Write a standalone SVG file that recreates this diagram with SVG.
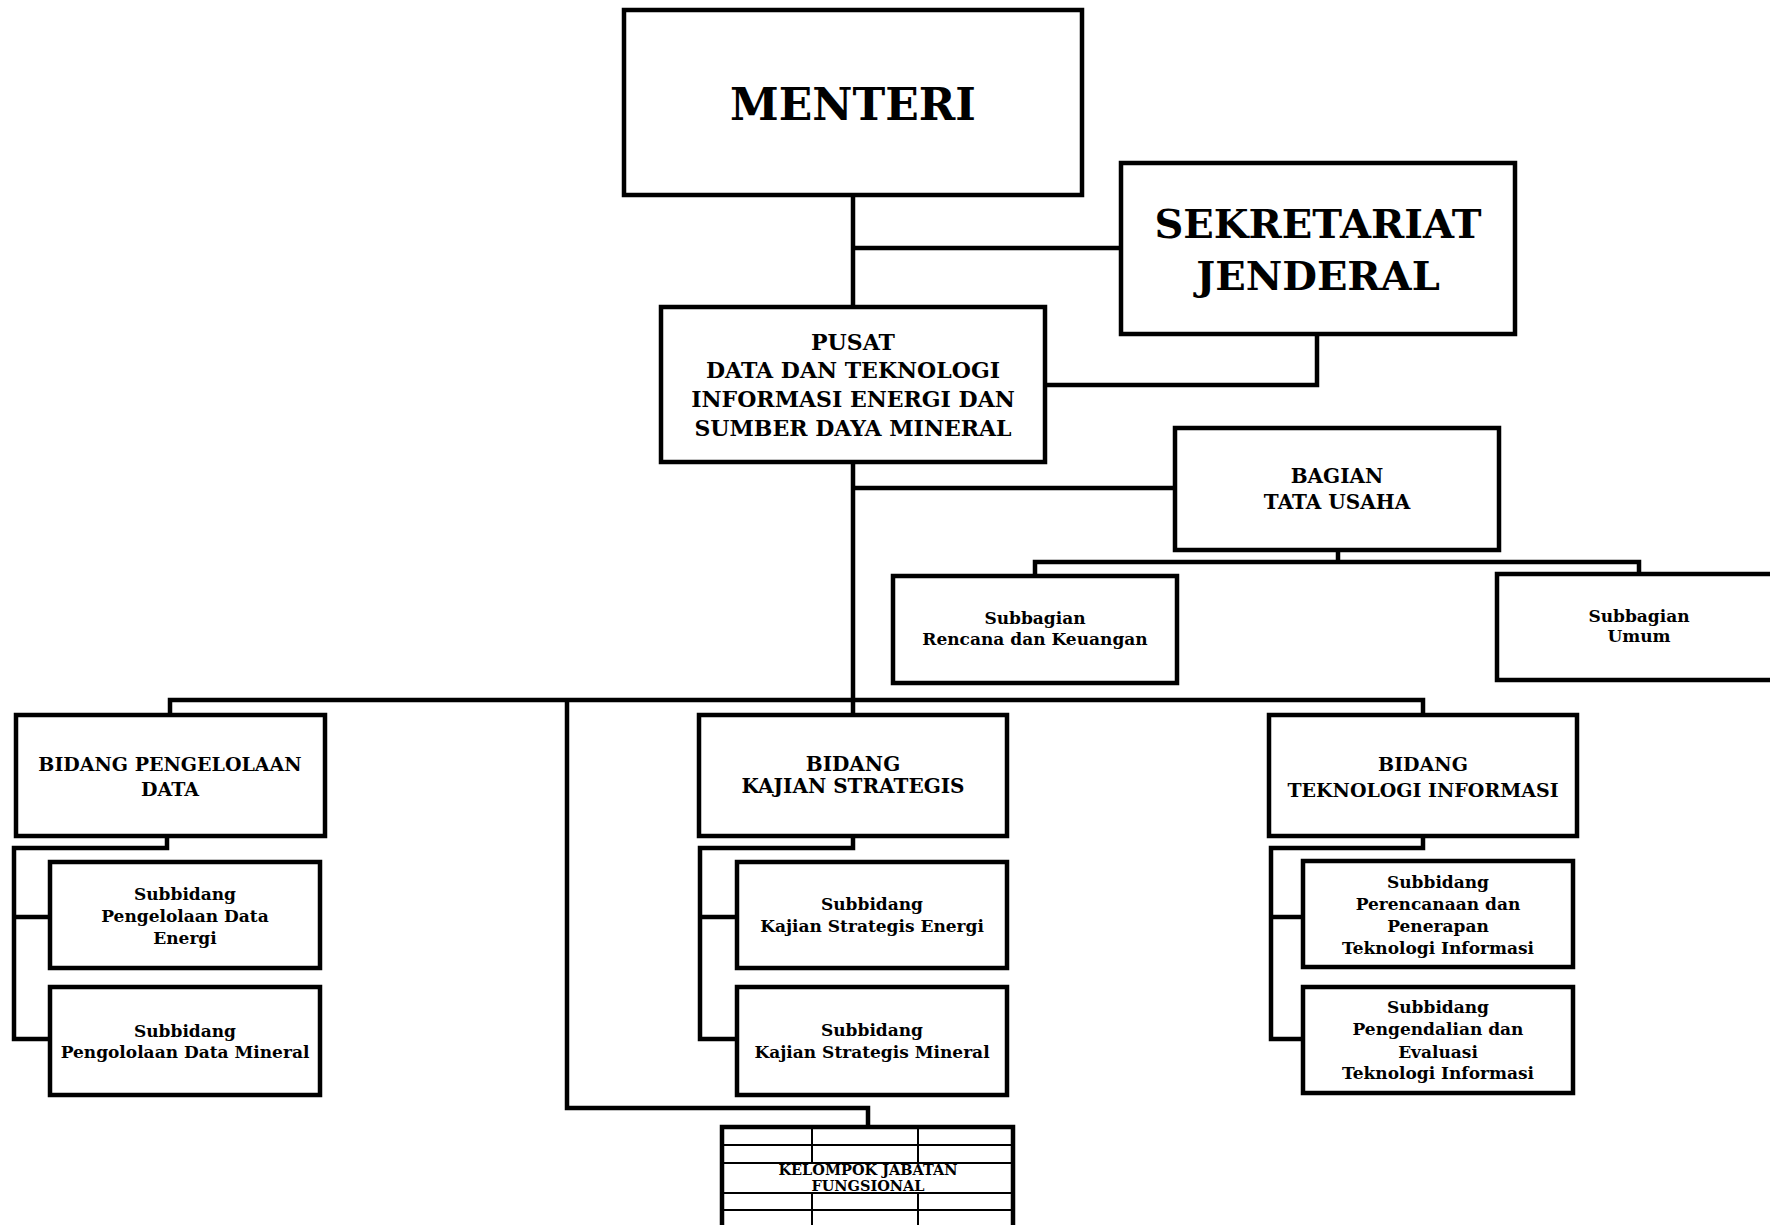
<svg xmlns="http://www.w3.org/2000/svg" width="1770" height="1225" viewBox="0 0 1770 1225">
<style>
.box{fill:#fff;stroke:#000;stroke-width:4.5}
.conn{fill:none;stroke:#000;stroke-width:4.5;stroke-linejoin:miter}
.grid{fill:none;stroke:#000;stroke-width:2}
text{font-family:"DejaVu Serif","Liberation Serif",serif;font-weight:bold;text-anchor:middle;fill:#000}
.t1{font-size:44px}
.t2{font-size:40px}
.t3{font-size:22px}
.t4{font-size:20px}
.t4b{font-size:19px}
.t5{font-size:17px}
.t6{font-size:14.5px}
</style>
<rect width="1770" height="1225" fill="#fff"/>
<g id="connectors">
<path class="conn" d="M853,195 V307"/>
<path class="conn" d="M853,248 H1121"/>
<path class="conn" d="M1317,334 V385 H1045"/>
<path class="conn" d="M853,462 V715"/>
<path class="conn" d="M853,488 H1175"/>
<path class="conn" d="M1338,550 V562"/>
<path class="conn" d="M1035,576 V562 H1639 V574"/>
<path class="conn" d="M170,715 V700 H1423 V715"/>
<path class="conn" d="M567,700 V1108 H868 V1127"/>
<path class="conn" d="M167,836 V848 H14 V1039 H50"/>
<path class="conn" d="M14,917 H50"/>
<path class="conn" d="M853,836 V848 H700 V1039 H737"/>
<path class="conn" d="M700,917 H737"/>
<path class="conn" d="M1423,836 V848 H1271 V1039 H1303"/>
<path class="conn" d="M1271,917 H1303"/>
</g>
<g id="menteri">
<rect class="box" x="624" y="10" width="458" height="185"/>
<text class="t1" x="853" y="120">MENTERI</text>
</g>
<g id="sekretariat-jenderal">
<rect class="box" x="1121" y="163" width="394" height="171"/>
<text class="t2" x="1318" y="238">SEKRETARIAT</text>
<text class="t2" x="1318" y="290">JENDERAL</text>
</g>
<g id="pusat">
<rect class="box" x="661" y="307" width="384" height="155"/>
<text class="t3" x="853" y="350">PUSAT</text>
<text class="t3" x="853" y="378">DATA DAN TEKNOLOGI</text>
<text class="t3" x="853" y="407">INFORMASI ENERGI DAN</text>
<text class="t3" x="853" y="436">SUMBER DAYA MINERAL</text>
</g>
<g id="bagian-tata-usaha">
<rect class="box" x="1175" y="428" width="324" height="122"/>
<text class="t4" x="1337" y="483">BAGIAN</text>
<text class="t4" x="1337" y="509">TATA USAHA</text>
</g>
<g id="subbagian-rencana">
<rect class="box" x="893" y="576" width="284" height="107"/>
<text class="t5" x="1035" y="624">Subbagian</text>
<text class="t5" x="1035" y="645">Rencana dan Keuangan</text>
</g>
<g id="subbagian-umum">
<rect class="box" x="1497" y="574" width="284" height="106"/>
<text class="t5" x="1639" y="622">Subbagian</text>
<text class="t5" x="1639" y="642">Umum</text>
</g>
<g id="bidang-pengelolaan-data">
<rect class="box" x="16" y="715" width="309" height="121"/>
<text class="t4b" x="170" y="771">BIDANG PENGELOLAAN</text>
<text class="t4b" x="170" y="796">DATA</text>
</g>
<g id="subbidang-pde">
<rect class="box" x="50" y="862" width="270" height="106"/>
<text class="t5" x="185" y="900">Subbidang</text>
<text class="t5" x="185" y="922">Pengelolaan Data</text>
<text class="t5" x="185" y="944">Energi</text>
</g>
<g id="subbidang-pdm">
<rect class="box" x="50" y="987" width="270" height="108"/>
<text class="t5" x="185" y="1037">Subbidang</text>
<text class="t5" x="185" y="1058">Pengololaan Data Mineral</text>
</g>
<g id="bidang-kajian-strategis">
<rect class="box" x="699" y="715" width="308" height="121"/>
<text class="t4" x="853" y="771">BIDANG</text>
<text class="t4" x="853" y="793">KAJIAN STRATEGIS</text>
</g>
<g id="subbidang-kse">
<rect class="box" x="737" y="862" width="270" height="106"/>
<text class="t5" x="872" y="910">Subbidang</text>
<text class="t5" x="872" y="932">Kajian Strategis Energi</text>
</g>
<g id="subbidang-ksm">
<rect class="box" x="737" y="987" width="270" height="108"/>
<text class="t5" x="872" y="1036">Subbidang</text>
<text class="t5" x="872" y="1058">Kajian Strategis Mineral</text>
</g>
<g id="bidang-teknologi-informasi">
<rect class="box" x="1269" y="715" width="308" height="121"/>
<text class="t4b" x="1423" y="771">BIDANG</text>
<text class="t4b" x="1423" y="797">TEKNOLOGI INFORMASI</text>
</g>
<g id="subbidang-ppti">
<rect class="box" x="1303" y="861" width="270" height="106"/>
<text class="t5" x="1438" y="888">Subbidang</text>
<text class="t5" x="1438" y="910">Perencanaan dan</text>
<text class="t5" x="1438" y="932">Penerapan</text>
<text class="t5" x="1438" y="954">Teknologi Informasi</text>
</g>
<g id="subbidang-peti">
<rect class="box" x="1303" y="987" width="270" height="106"/>
<text class="t5" x="1438" y="1013">Subbidang</text>
<text class="t5" x="1438" y="1035">Pengendalian dan</text>
<text class="t5" x="1438" y="1058">Evaluasi</text>
<text class="t5" x="1438" y="1079">Teknologi Informasi</text>
</g>
<g id="kelompok-jabatan-fungsional">
<rect class="box" x="722" y="1127" width="291" height="110"/>
<path class="grid" d="M722,1145 H1013 M722,1163 H1013 M722,1193 H1013 M722,1210 H1013 M812,1127 V1163 M918,1127 V1163 M812,1193 V1237 M918,1193 V1237"/>
<text class="t6" x="868" y="1175">KELOMPOK JABATAN</text>
<text class="t6" x="868" y="1191">FUNGSIONAL</text>
</g>
</svg>
